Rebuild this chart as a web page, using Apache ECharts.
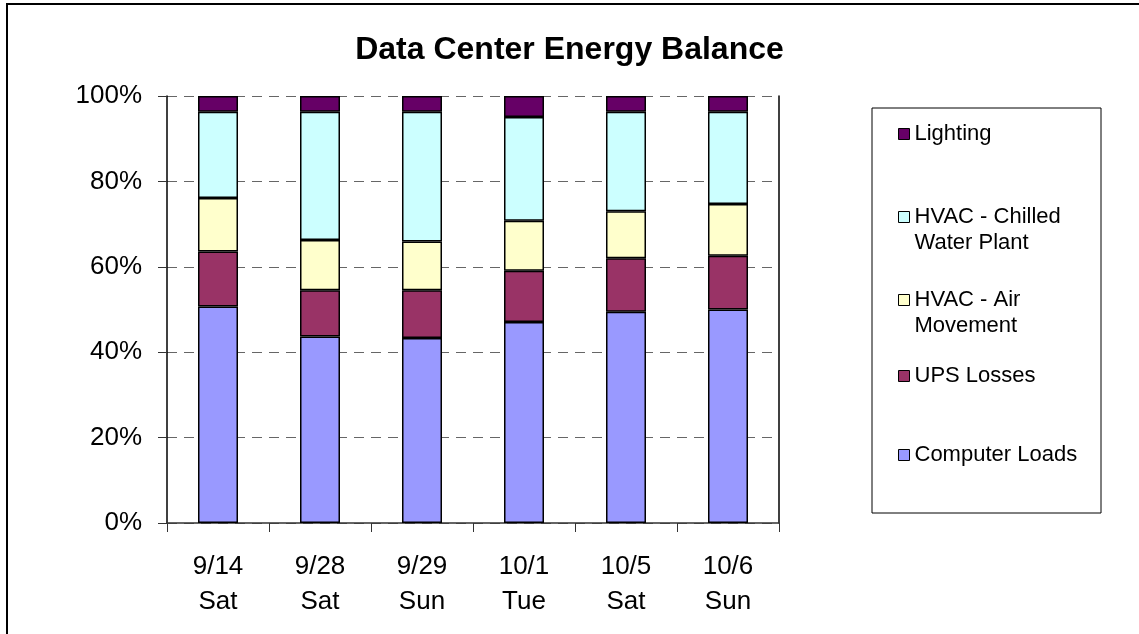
<!DOCTYPE html>
<html>
<head>
<meta charset="utf-8">
<script src="https://cdn.jsdelivr.net/npm/echarts@6/dist/echarts.min.js"></script>
<style>
  html, body { margin: 0; padding: 0; background: #fff; }
  #chart { width: 1139px; height: 634px; }
</style>
</head>
<body>
<div id="chart"></div>
<script>
// data (percent of total energy)
var days = ['9/14\nSat', '9/28\nSat', '9/29\nSun', '10/1\nTue', '10/5\nSat', '10/6\nSun'];
var computerLoads = [50.7, 43.7, 43.3, 47.1, 49.5, 50.0];
var upsLosses     = [12.9, 10.8, 11.2, 12.0, 12.5, 12.6];
var airMovement   = [12.5, 11.8, 11.4, 11.7, 11.0, 12.1];
var chilledWater  = [20.2, 30.0, 30.4, 24.3, 23.3, 21.6];
var lighting      = [3.7, 3.7, 3.7, 4.9, 3.7, 3.7];
var yTicks = [0, 20, 40, 60, 80, 100];

var font = 'Liberation Sans, Arial, sans-serif';
var names = ['Computer Loads', 'UPS Losses', 'HVAC - Air\nMovement', 'HVAC - Chilled\nWater Plant', 'Lighting'];
var colors = ['#9999ff', '#993366', '#ffffcc', '#ccffff', '#660066'];
var values = [computerLoads, upsLosses, airMovement, chilledWater, lighting];

var series = names.map(function (n, i) {
    return {
        name: n,
        type: 'bar',
        stack: 'total',
        barWidth: 40,
        data: values[i],
        itemStyle: { color: colors[i], borderColor: '#000', borderWidth: 1.5 },
        emphasis: { disabled: true }
    };
});

// one legend per entry so the uneven spacing of the original can be kept
var legendTops = { 'Lighting': 121, 'HVAC - Chilled\nWater Plant': 178, 'HVAC - Air\nMovement': 261, 'UPS Losses': 363, 'Computer Loads': 442 };
var legends = names.slice().reverse().map(function (n) {
    return {
        left: 898,
        top: legendTops[n],
        padding: 0,
        orient: 'vertical',
        itemWidth: 11,
        itemHeight: 11,
        itemGap: 0,
        selectedMode: false,
        icon: 'rect',
        itemStyle: { borderColor: '#000', borderWidth: 1 },
        textStyle: { fontFamily: font, fontSize: 22, color: '#000', lineHeight: 26 },
        // blank first line keeps the marker level with the first text line
        formatter: function (name) { return name.indexOf('\n') >= 0 ? '\n' + name : name; },
        data: [n]
    };
});

var chart = echarts.init(document.getElementById('chart'));
chart.setOption({
    animation: false,
    title: {
        text: 'Data Center Energy Balance',
        left: 'center',
        top: 29,
        textStyle: { fontFamily: font, fontSize: 32, fontWeight: 'bold', color: '#000' }
    },
    legend: legends,
    grid: { left: 167, right: 360, top: 96, bottom: 111 },
    xAxis: {
        type: 'category',
        data: days,
        axisLine: { lineStyle: { color: '#333', width: 1.5 } },
        axisTick: { show: true, length: 9, lineStyle: { color: '#333' } },
        axisLabel: { fontFamily: font, fontSize: 26, color: '#000', lineHeight: 35, margin: 26 }
    },
    yAxis: [{
        type: 'value',
        min: 0,
        max: 100,
        interval: 20,
        axisLine: { show: true, lineStyle: { color: '#000', width: 1.5 } },
        axisTick: { show: true, length: 9, lineStyle: { color: '#333' } },
        axisLabel: {
            fontFamily: font, fontSize: 26, color: '#000', margin: 25,
            formatter: function (v) { return yTicks.indexOf(v) >= 0 ? v + '%' : ''; }
        },
        splitLine: { show: true, lineStyle: { color: '#666', type: [10, 7], width: 1.2 } }
    }, {
        type: 'value',
        min: 0,
        max: 100,
        position: 'right',
        axisLine: { show: true, lineStyle: { color: '#000', width: 1.5 } },
        axisTick: { show: false },
        axisLabel: { show: false },
        splitLine: { show: false }
    }],
    graphic: [
        // legend frame
        { type: 'rect', shape: { x: 872, y: 108, width: 229, height: 405 }, style: { fill: 'none', stroke: '#000', lineWidth: 1 }, silent: true },
        // outer chart frame (top and left edges visible)
        { type: 'polyline', shape: { points: [[7, 640], [7, 4], [1145, 4]] }, style: { fill: 'none', stroke: '#000', lineWidth: 2 }, silent: true }
    ],
    series: series
});
</script>
</body>
</html>
